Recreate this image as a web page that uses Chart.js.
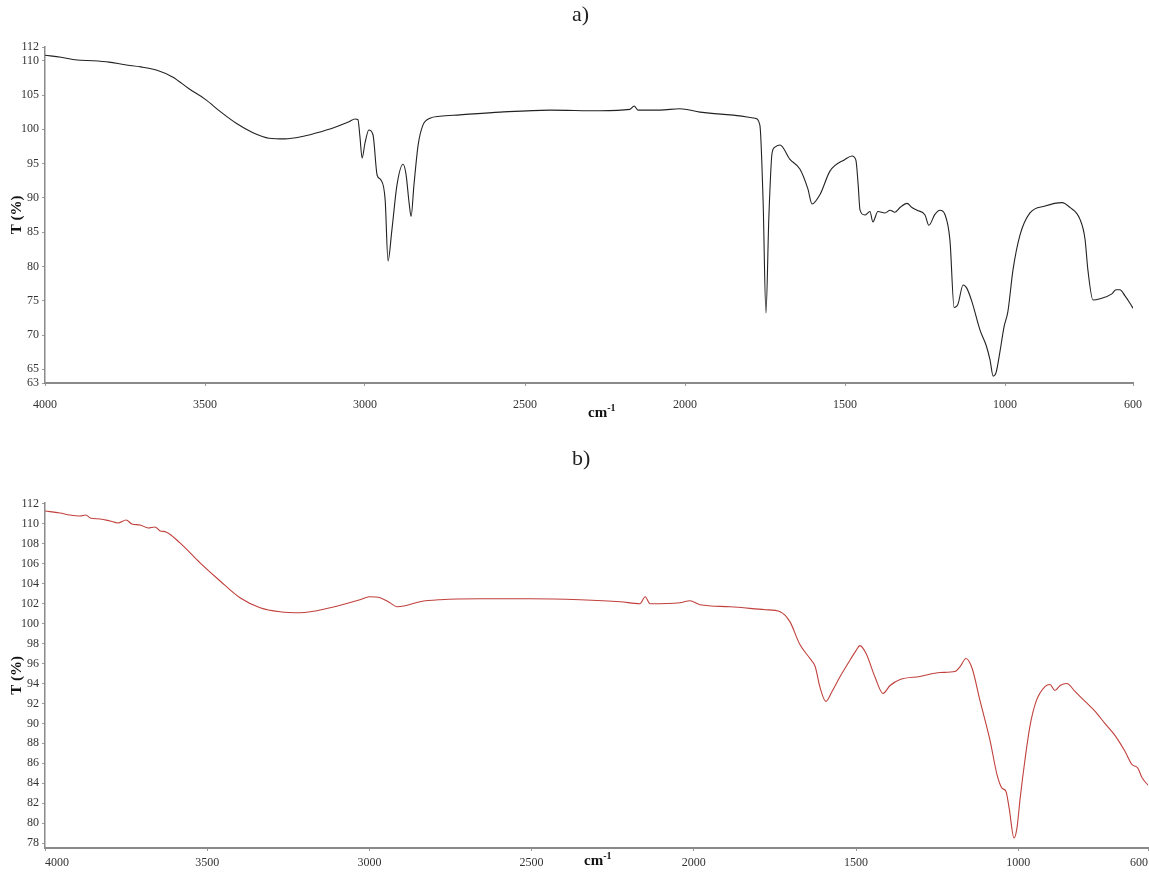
<!DOCTYPE html>
<html><head><meta charset="utf-8">
<script src="https://cdn.jsdelivr.net/npm/chart.js@4.4.0/dist/chart.umd.min.js"></script>
<style>
body{margin:0;background:#fff;width:1149px;height:876px;overflow:hidden;position:relative;font-family:"Liberation Serif","DejaVu Serif",serif;}
canvas{position:absolute;left:0;}
#c1{top:0;}
#c2{top:440px;}
.ttl{position:absolute;font-size:22px;color:#222;line-height:1;}
.unit{position:absolute;font-weight:bold;font-size:15px;color:#111;line-height:1;}
.unit sup{font-size:10px;}
</style></head>
<body>
<canvas id="c1" width="1149" height="430"></canvas>
<canvas id="c2" width="1149" height="436"></canvas>
<div class="ttl" style="left:572px;top:3px;">a)</div>
<div class="ttl" style="left:572px;top:447px;">b)</div>
<div class="unit" style="left:588px;top:403px;">cm<sup>-1</sup></div>
<div class="unit" style="left:584px;top:851px;">cm<sup>-1</sup></div>
<script>
// ---- data ----
const xTickValues = [600, 1000, 1500, 2000, 2500, 3000, 3500, 4000];
const topYTicks = [63, 65, 70, 75, 80, 85, 90, 95, 100, 105, 110, 112];
const bottomYTicks = [78, 80, 82, 84, 86, 88, 90, 92, 94, 96, 98, 100, 102, 104, 106, 108, 110, 112];

const topWavenumbers = [4000,3950,3900,3850,3800,3750,3700,3650,3600,3550,3500,3450,3400,3350,3300,3250,3200,3150,3100,3050,3031,3022,3016,3009,3000,2988,2975,2962,2950,2937,2928,2916,2900,2881,2872,2862,2856,2847,2834,2819,2797,2766,2703,2578,2422,2266,2172,2159,2147,2078,2016,1953,1859,1781,1766,1756,1747,1738,1728,1719,1703,1672,1641,1616,1603,1578,1547,1500,1478,1466,1459,1453,1438,1422,1413,1397,1375,1359,1344,1328,1306,1291,1275,1250,1238,1219,1203,1188,1172,1159,1147,1131,1119,1103,1078,1059,1047,1037,1028,1016,1003,991,975,953,922,875,822,797,766,750,741,725,703,666,653,641,625,609,600];
const topTransmittance = [110.8,110.5,110.1,110.0,109.8,109.4,109.1,108.6,107.6,105.9,104.4,102.5,100.8,99.5,98.7,98.6,98.9,99.5,100.2,101.1,101.5,101.4,99.0,95.8,98.0,99.9,99.2,93.3,92.6,89.7,80.8,85.3,91.9,94.9,93.5,89.2,87.3,91.9,97.7,100.6,101.6,101.9,102.1,102.5,102.8,102.7,102.9,103.4,102.8,102.8,103.0,102.5,102.1,101.6,100.6,89.6,73.2,87.1,96.5,97.4,97.7,95.6,94.2,91.3,89.1,90.5,93.9,95.6,96.1,95.5,92.0,88.2,87.5,88.0,86.5,88.0,87.8,88.2,87.9,88.6,89.2,88.6,88.2,87.5,86.0,87.6,88.2,87.6,83.8,74.0,74.5,77.3,76.8,74.8,70.7,68.5,66.4,64.0,64.5,67.5,71.2,73.4,79.5,84.6,87.8,88.8,89.3,88.6,86.9,84.0,79.5,75.1,75.3,76.0,76.6,76.6,75.7,74.6,73.9];

const bottomWavenumbers = [4000,3954,3923,3892,3874,3861,3830,3800,3775,3750,3732,3707,3682,3661,3645,3627,3584,3522,3461,3399,3337,3276,3214,3121,3029,3000,2967,2937,2915,2890,2844,2782,2659,2505,2351,2227,2166,2150,2135,2043,2012,1981,1888,1780,1734,1704,1673,1642,1626,1611,1593,1574,1549,1525,1500,1488,1469,1441,1417,1395,1364,1303,1241,1195,1179,1161,1142,1118,1087,1065,1050,1038,1028,1013,1004,994,979,964,945,917,902,887,871,850,825,794,763,733,702,671,650,631,619,600];
const bottomTransmittance = [111.3,111.1,110.9,110.8,110.9,110.6,110.5,110.3,110.1,110.4,110.0,109.9,109.6,109.7,109.3,109.2,108.1,106.1,104.3,102.6,101.6,101.2,101.1,101.6,102.4,102.7,102.6,102.1,101.7,101.8,102.2,102.4,102.5,102.5,102.4,102.2,102.0,102.7,102.0,102.1,102.3,101.9,101.7,101.4,101.2,100.2,97.9,96.5,95.7,93.6,92.2,93.2,94.7,96.0,97.3,97.8,97.0,94.6,93.0,93.8,94.4,94.7,95.1,95.2,95.7,96.5,95.5,92.3,88.3,84.8,83.5,83.2,81.5,78.5,79.5,82.5,86.4,89.7,92.2,93.7,93.9,93.3,93.8,94.0,93.2,92.2,91.2,90.0,88.8,87.2,85.9,85.5,84.6,83.8];

// ---- charts ----
const tickFont = {family: '"Liberation Serif", serif', size: 12};
function pts(xs, ys){ return xs.map((x,i)=>({x:x, y:ys[i]})); }

function makeChart(id, xs, ys, color, yTicks, yMin, yMax, opts){
  return new Chart(document.getElementById(id), {
    type: 'line',
    data: { datasets: [{ data: pts(xs, ys), borderColor: color, borderWidth: 1.1, pointRadius: 0, fill: false, cubicInterpolationMode: 'monotone' }] },
    options: {
      responsive: false, animation: false,
      layout: { padding: { top: opts.top, right: opts.right, left: 0, bottom: 0 } },
      plugins: { legend: { display: false }, tooltip: { enabled: false } },
      scales: {
        x: {
          type: 'linear', min: 600, max: 4000, reverse: true,
          afterBuildTicks: s => { s.ticks = xTickValues.map(v => ({value: v})); },
          afterFit: s => { s.height = opts.xh; s.paddingLeft = 0; s.paddingRight = 0; },
          border: { display: true, color: '#8a8a8a', width: 2 },
          grid: { display: true, drawOnChartArea: false, drawTicks: true, tickLength: 3, color: '#9a9a9a' },
          ticks: { font: tickFont, color: '#333', padding: opts.xpad, maxRotation: 0, autoSkip: false, align: opts.xalign, callback: v => String(v) }
        },
        y: {
          min: yMin, max: yMax,
          afterBuildTicks: s => { s.ticks = yTicks.map(v => ({value: v})); },
          afterFit: s => { s.width = 45; },
          border: { display: true, color: '#8a8a8a', width: 1.5 },
          grid: { display: true, drawOnChartArea: false, drawTicks: true, tickLength: 3, color: '#9a9a9a' },
          ticks: { font: tickFont, color: '#333', padding: 3, autoSkip: false, callback: v => String(v) },
          title: { display: true, text: 'T (%)', font: { family: '"Liberation Serif", serif', size: 15, weight: 'bold' }, color: '#111', padding: { top: 8, bottom: 0 } }
        }
      }
    }
  });
}

makeChart('c1', topWavenumbers, topTransmittance, '#222222', topYTicks, 63, 112, {top: 47, right: 16, xh: 47, xpad: 12, xalign: 'center'});
makeChart('c2', bottomWavenumbers, bottomTransmittance, '#c0403c', bottomYTicks, 77.5, 112.1, {top: 63, right: 1, xh: 28, xpad: 5, xalign: 'inner'});
</script>
</body></html>
